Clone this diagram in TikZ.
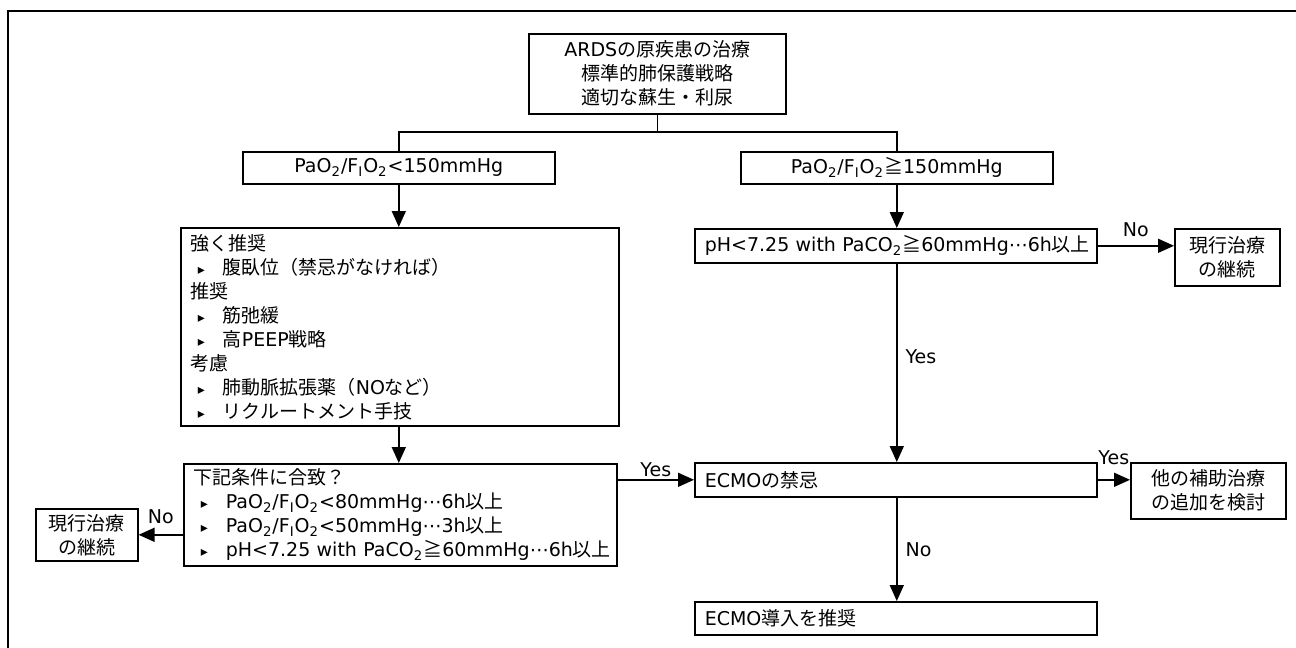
\documentclass[tikz,border=0pt]{standalone}
\usepackage{fontspec}
\setmainfont{DejaVu Sans}
\newfontfamily\jpfont{Noto Sans CJK JP}
\usetikzlibrary{positioning,arrows.meta}
\newcommand{\jt}[1]{{\jpfont #1}}
\newcommand{\pf}{PaO\textsubscript{2}/F$_{\mathrm{I}}$O\textsubscript{2}}
\newcommand{\itm}[1]{\mbox{\makebox[16pt][l]{\hspace{3.5pt}\scriptsize ▸}#1}}
\begin{document}
\begin{tikzpicture}[
		x=0.5pt, y=-0.5pt,
		box/.style={draw,line width=0.8pt,font=\fontsize{9.5}{12}\selectfont,inner xsep=5pt,inner ysep=0pt,anchor=north west},
		cbox/.style={box,align=center},
		lbox/.style={box,align=left},
		link/.style={-{Triangle[length=8pt,width=7pt]},line width=0.8pt},
		tag/.style={font=\fontsize{9.5}{12}\selectfont,inner sep=1pt}
		]
		\useasboundingbox (0,0) rectangle (1296,648);
		\draw[line width=0.6pt] (1296,11) -- (8,11) -- (8,648);
		\node[cbox,minimum width=128.5pt,minimum height=40pt] (cause) at (528,33)
			{ARDS\jt{の原疾患の治療}\\\jt{標準的肺保護戦略}\\\jt{適切な蘇生・利尿}};
		\node[cbox,minimum width=156pt,minimum height=16pt] (lowratio) at (242,151) {\pf<150mmHg};
		\node[cbox,minimum width=156pt,minimum height=16pt] (highratio) at (740,151) {\pf\jt{≧}150mmHg};
		\node[lbox,text width=209pt,minimum height=99pt] (recommend) at (180,227)
			{\jt{強く推奨}\\
			\itm{\jt{腹臥位（禁忌がなければ）}}\\
			\jt{推奨}\\
			\itm{\jt{筋弛緩}}\\
			\itm{\jt{高}PEEP\jt{戦略}}\\
			\jt{考慮}\\
			\itm{\jt{肺動脈拡張薬（}NO\jt{など）}}\\
			\itm{\jt{リクルートメント手技}}};
		\node[lbox,text width=206.5pt,minimum height=51pt] (criteria) at (183,463)
			{\jt{下記条件に合致？}\\
			\itm{\pf<80mmHg⋯6h\jt{以上}}\\
			\itm{\pf<50mmHg⋯3h\jt{以上}}\\
			\itm{pH<7.25 with PaCO\textsubscript{2}\jt{≧}60mmHg⋯6h\jt{以上}}};
		\node[cbox,minimum width=51pt,minimum height=26pt] (keepleft) at (35,508) {\jt{現行治療}\\\jt{の継続}};
		\node[lbox,text width=191pt,minimum height=17pt] (phcheck) at (694,228)
			{\mbox{pH<7.25 with PaCO\textsubscript{2}\jt{≧}60mmHg⋯6h\jt{以上}}};
		\node[cbox,minimum width=52.5pt,minimum height=28.5pt] (keepright) at (1174,228) {\jt{現行治療}\\\jt{の継続}};
		\node[lbox,text width=191pt,minimum height=17pt] (contra) at (694,462) {ECMO\jt{の禁忌}};
		\node[cbox,minimum width=77.5pt,minimum height=28pt] (adjunct) at (1130,462) {\jt{他の補助治療}\\\jt{の追加を検討}};
		\node[lbox,text width=191pt,minimum height=16.5pt] (ecmo) at (694,601) {ECMO\jt{導入を推奨}};
		\coordinate (split) at (656,132);
		\draw[line width=0.8pt] (cause.south) -- (cause.south |- split);
		\draw[line width=0.8pt] (lowratio.north) |- (split) -| (highratio.north);
		\draw[link] (lowratio.south) -- (lowratio.south |- recommend.north);
		\draw[link] (lowratio.south |- recommend.south) -- (lowratio.south |- criteria.north);
		\draw[link] (highratio.south) -- (highratio.south |- phcheck.north);
		\draw[link] (phcheck.east) -- node[tag,above=3pt] {No} (phcheck.east -| keepright.west);
		\draw[link] (highratio.south |- phcheck.south) -- node[tag,pos=0.47,right=3pt] {Yes} (highratio.south |- contra.north);
		\draw[link] (criteria.east |- contra.west) -- node[tag,above=0pt] {Yes} (contra.west);
		\draw[link] (criteria.west |- keepleft.east) -- node[tag,above=4pt] {No} (keepleft.east);
		\draw[link] (contra.east) -- node[tag,above=6pt] {Yes} (contra.east -| adjunct.west);
		\draw[link] (highratio.south |- contra.south) -- node[tag,right=3pt] {No} (highratio.south |- ecmo.north);
\end{tikzpicture}
\end{document}
